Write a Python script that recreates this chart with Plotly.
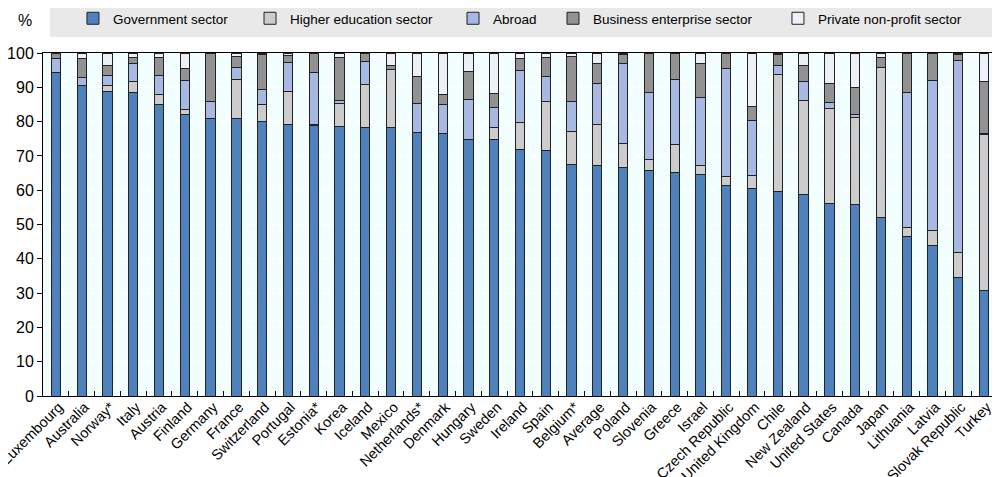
import plotly.graph_objects as go

countries = ["Luxembourg", "Australia", "Norway*", "Italy", "Austria", "Finland", "Germany", "France",
             "Switzerland", "Portugal", "Estonia*", "Korea", "Iceland", "Mexico", "Netherlands*", "Denmark",
             "Hungary", "Sweden", "Ireland", "Spain", "Belgium*", "Average", "Poland", "Slovenia", "Greece",
             "Israel", "Czech Republic", "United Kingdom", "Chile", "New Zealand", "United States", "Canada",
             "Japan", "Lithuania", "Latvia", "Slovak Republic", "Turkey"]

government = [94.4, 90.6, 88.9, 88.5, 85.0, 82.0, 81.0, 81.0, 80.0, 79.2, 78.8, 78.5, 78.3, 78.3, 76.9, 76.6,
              74.9, 74.9, 72.0, 71.7, 67.5, 67.3, 66.7, 65.7, 65.2, 64.7, 61.4, 60.5, 59.6, 58.8, 56.2, 55.8,
              52.1, 46.6, 43.8, 34.6, 30.8]
higher_education = [0.0, 0.0, 1.5, 3.1, 2.8, 1.4, 0.0, 11.3, 5.1, 9.7, 0.4, 6.8, 12.4, 17.0, 0.0, 0.0,
                    0.0, 3.3, 7.8, 14.3, 9.6, 12.0, 7.0, 3.3, 8.0, 2.4, 2.7, 3.8, 34.2, 27.4, 27.7, 25.3,
                    43.7, 2.6, 4.4, 7.3, 45.5]
abroad = [4.1, 2.4, 3.0, 5.4, 5.5, 8.5, 4.8, 3.4, 4.4, 8.3, 15.2, 0.8, 6.8, 0.0, 8.4, 8.5,
          11.4, 5.9, 15.0, 7.1, 8.9, 11.7, 23.3, 19.4, 19.1, 19.9, 31.4, 15.9, 2.7, 5.4, 1.7, 1.0,
          0.0, 39.4, 43.7, 55.9, 0.3]
business = [1.3, 5.3, 3.1, 1.6, 5.3, 3.6, 14.2, 3.3, 10.2, 2.1, 5.6, 12.6, 2.5, 1.2, 7.8, 2.7,
            8.3, 4.1, 3.6, 5.6, 13.0, 6.0, 2.7, 11.6, 7.7, 9.8, 4.5, 4.3, 3.2, 4.9, 5.6, 7.8,
            2.9, 11.4, 8.1, 1.9, 15.2]
private_non_profit = [0.2, 1.7, 3.5, 1.4, 1.4, 4.5, 0.0, 1.0, 0.3, 0.7, 0.0, 1.3, 0.0, 3.5, 6.9, 12.2,
                      5.4, 11.8, 1.6, 1.3, 1.0, 3.0, 0.3, 0.0, 0.0, 3.2, 0.0, 15.5, 0.3, 3.5, 8.8, 10.1,
                      1.3, 0.0, 0.0, 0.3, 8.2]

series_names = ["Government sector", "Higher education sector", "Abroad",
                "Business enterprise sector", "Private non-profit sector"]
series_values = [government, higher_education, abroad, business, private_non_profit]
series_colors = ["#4F81BD", "#CCCCCC", "#A7B9E3", "#929292", "#EEF0F8"]
legend_x = [0.0314, 0.2170, 0.4298, 0.5346, 0.7704]

FONT = "Liberation Sans, Arial, sans-serif"

fig = go.Figure()
legend_layout = {}
for i, (name, vals, col) in enumerate(zip(series_names, series_values, series_colors)):
    lg = "legend" if i == 0 else f"legend{i + 1}"
    fig.add_trace(go.Bar(
        x=countries, y=vals, name=name, legend=lg, showlegend=True,
        marker=dict(color=col, line=dict(color="#222222", width=1)),
    ))
    legend_layout[lg] = dict(
        orientation="h",
        x=legend_x[i], xanchor="left",
        y=1.1006, yanchor="middle",
        bgcolor="rgba(0,0,0,0)",
        font=dict(family=FONT, size=13.5, color="black"),
        itemwidth=30,
    )

fig.update_layout(
    barmode="stack",
    bargap=0.64,
    showlegend=True,
    width=992, height=469,
    margin=dict(l=35, r=3, t=45, b=81, autoexpand=False),
    paper_bgcolor="white",
    plot_bgcolor="#F3FEFF",
    font=dict(family=FONT, size=15, color="black"),
    shapes=[dict(type="rect", xref="paper", yref="paper",
                 x0=0.0073, x1=1.0, y0=1.0466, y1=1.14,
                 fillcolor="#E9E9E9", line=dict(width=0), layer="below")],
    annotations=[dict(text="%", xref="paper", yref="paper", x=-0.0189, y=1.096,
                      xanchor="center", yanchor="middle", showarrow=False,
                      font=dict(family=FONT, size=16, color="black"))],
    **legend_layout,
)

fig.update_xaxes(
    type="category",
    tickangle=-45,
    ticks="inside", tickson="boundaries", ticklen=5, tickcolor="black",
    showline=True, linecolor="black", linewidth=1, mirror=True,
    showgrid=False,
    ticklabelstandoff=-4,
    ticklabelshift=3,
    tickfont=dict(family=FONT, size=14.5, color="black"),
    automargin=False,
)
fig.update_yaxes(
    range=[0, 100], dtick=10,
    ticks="outside", ticklen=5, tickcolor="black",
    showline=True, linecolor="black", linewidth=1, mirror=True,
    showgrid=True, gridcolor="white", gridwidth=1,
    zeroline=False,
    tickfont=dict(family=FONT, size=16, color="black"),
    automargin=False,
)

fig.write_html("out.html")
